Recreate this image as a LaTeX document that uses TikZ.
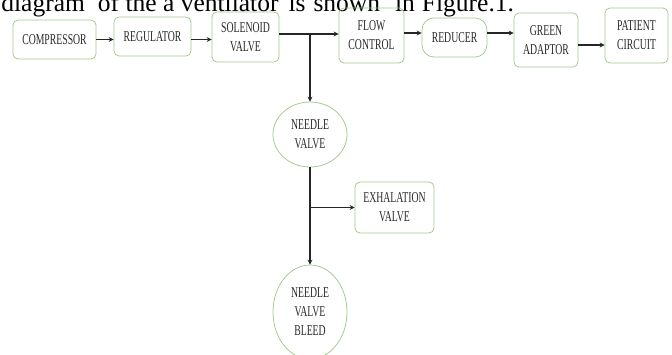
\documentclass[tikz,border=0pt]{standalone}
\usepackage{fontspec}
\setmainfont{Liberation Serif}
\newfontfamily\narrowserif[FakeStretch=0.65]{Liberation Serif}
\usetikzlibrary{arrows.meta,positioning,shapes.geometric}
\definecolor{boxgreen}{RGB}{165,198,140}
\definecolor{inkgray}{RGB}{40,40,40}
\tikzset{every picture/.style={line width=0.75pt}}
\tikzset{
    block/.style={draw=boxgreen, rounded corners=5pt, align=center, inner sep=0pt,
        text=inkgray, font=\narrowserif\fontsize{15}{19}\selectfont},
    valve/.style={draw=boxgreen, ellipse, align=center, inner sep=0pt,
        text=inkgray, font=\narrowserif\fontsize{15}{19}\selectfont},
    flow/.style={->, line width=1.5pt, black!85}
}

\begin{document}
\begin{tikzpicture}[x=1pt, y=1pt, >={Stealth[length=5pt,width=5pt]}]

    \useasboundingbox (0,0) rectangle (672,-354);
    \clip (0,0) rectangle (672,-354);

    % --- text line cut at the top ---
    \node[anchor=base west, inner sep=0pt, font=\fontsize{25.5}{30}\selectfont] (caption) at (1,-11)
        {diagram\hspace{13pt}of the a ventilator\hspace{10pt}is\hspace{8pt}shown\hspace{15pt}in\hspace{7pt}Figure.1.};

    % --- main line ---
    \node[block, minimum width=83, minimum height=39] (comp) at (54.5,-39.5) {COMPRESSOR};
    \node[block, minimum width=77, minimum height=39] (reg) at (152.5,-36.5) {REGULATOR};
    \node[block, minimum width=67, minimum height=50] (sol) at (245.5,-37) {SOLENOID\\VALVE};
    \node[block, minimum width=65, minimum height=55] (flow) at (371.5,-35.5) {FLOW\\CONTROL};
    \node[block, rounded corners=12pt, minimum width=65, minimum height=39] (red) at (454.5,-37.5) {REDUCER};
    \node[block, minimum width=64, minimum height=54] (green) at (546,-40) {GREEN\\ADAPTOR};
    \node[block, minimum width=63, minimum height=55] (patient) at (636.5,-35.5) {PATIENT\\CIRCUIT};

    % --- branch ---
    \node[valve, minimum width=74, minimum height=65] (needle) at (310,-134.5) {NEEDLE\\VALVE};
    \node[block, minimum width=79, minimum height=51] (exh) at (394.5,-207.5) {EXHALATION\\VALVE};
    \node[valve, minimum width=74, minimum height=94] (bleed) at (310,-312) {NEEDLE\\VALVE\\BLEED};

    % --- connectors ---
    \draw[flow] (comp.east) -- (comp.east -| reg.west);
    \draw[flow] ([yshift=-3pt]reg.east) -- ([yshift=-3pt]reg.east -| sol.west);
    \draw[flow] ([yshift=3pt]sol.east) -- ([yshift=3pt]sol.east -| flow.west);
    \draw[flow] ([yshift=2.5pt]flow.east) -- ([yshift=2.5pt]flow.east -| red.west);
    \draw[flow] ([yshift=4.5pt]red.east) -- ([yshift=4.5pt]red.east -| green.west);
    \draw[flow] ([yshift=-5pt]green.east) -- ([yshift=-5pt]green.east -| patient.west);

    \coordinate (split) at ([yshift=3pt]sol.east -| needle.north);
    \draw[flow] (split) -- (needle.north);
    \draw[flow] (needle.south) -- (bleed.north);
    \coordinate (tap) at (needle.south |- exh.west);
    \draw[flow] (tap) -- (exh.west);

\end{tikzpicture}
\end{document}
